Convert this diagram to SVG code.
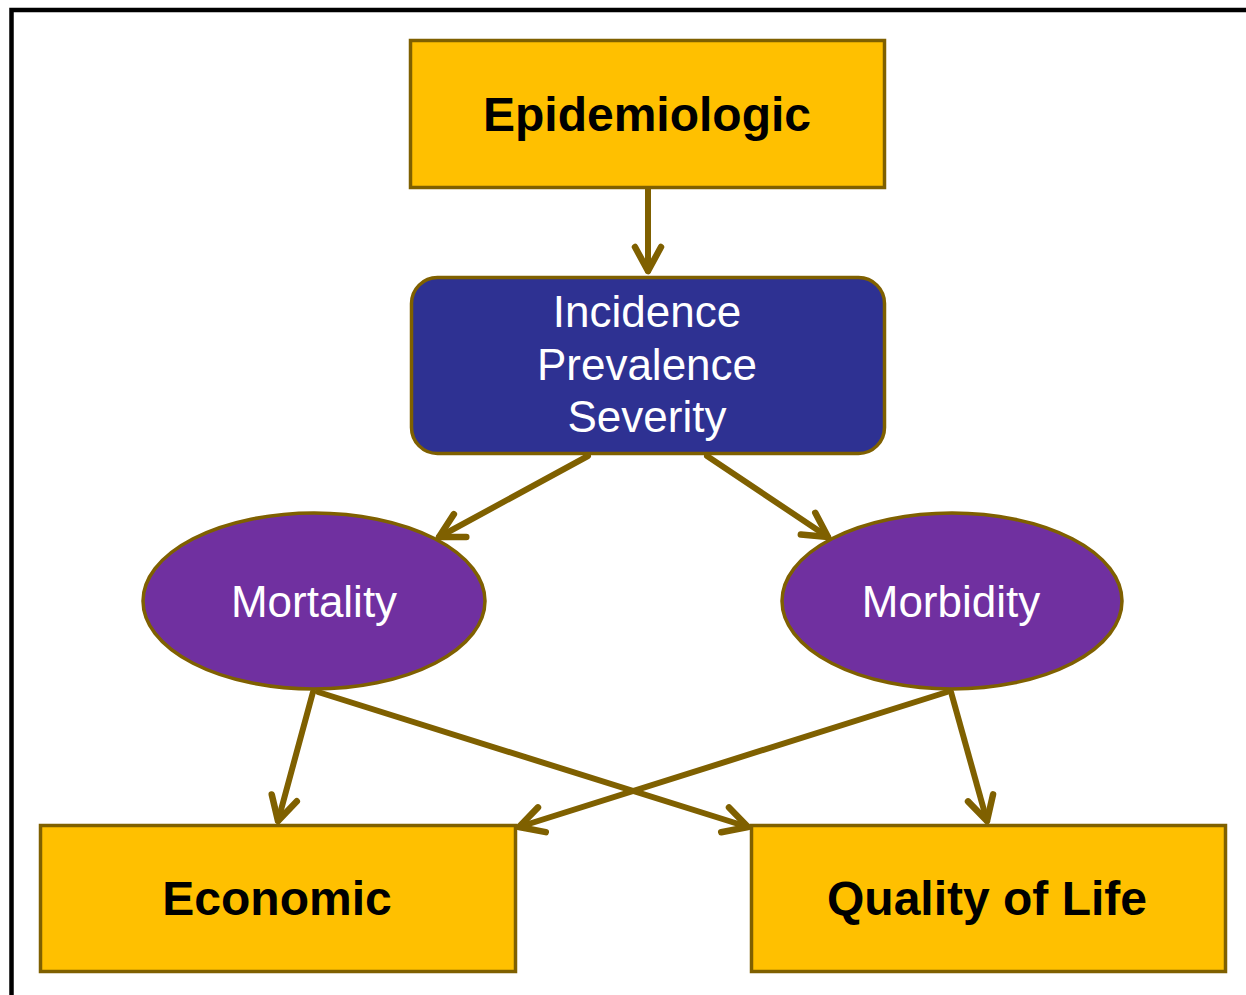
<svg xmlns="http://www.w3.org/2000/svg" width="1246" height="995" viewBox="0 0 1246 995">
  <style>
    .box { fill: #FFC000; stroke: #7F6000; stroke-width: 3.5; }
    .blue { fill: #2E3192; stroke: #7F6000; stroke-width: 3.5; }
    .oval { fill: #7030A0; stroke: #7F6000; stroke-width: 3.5; }
    .dark { font-family: "Liberation Sans", Arial, sans-serif; font-weight: bold; font-size: 48px; fill: #000; text-anchor: middle; }
    .light { font-family: "Liberation Sans", Arial, sans-serif; font-size: 44px; fill: #FFFFFF; text-anchor: middle; }
    .link { stroke: #7F6000; stroke-width: 6; fill: none; stroke-linecap: round; marker-end: url(#head); }
  </style>
  <defs>
    <marker id="head" markerUnits="userSpaceOnUse" markerWidth="40" markerHeight="40" viewBox="-30 -20 40 40" refX="0" refY="0" orient="auto" overflow="visible">
      <path d="M-24,-13 L0,0 L-24,13" fill="none" stroke="#7F6000" stroke-width="6.5" stroke-linecap="round" stroke-linejoin="round"/>
    </marker>
  </defs>

  <rect width="1246" height="995" fill="#FFFFFF"/>
  <!-- outer frame (top and left edges) -->
  <path d="M11.5,995 V10 H1246" fill="none" stroke="#000" stroke-width="4.5"/>

  <g id="connectors">
    <line class="link" x1="588" y1="456" x2="439" y2="537"/>
    <line class="link" x1="707" y1="456" x2="828" y2="537"/>
    <line class="link" x1="648" y1="189" x2="648" y2="271"/>
    <line class="link" x1="313" y1="692" x2="278" y2="821"/>
    <line class="link" x1="318" y1="692" x2="748" y2="827"/>
    <line class="link" x1="947" y1="692" x2="519" y2="827"/>
    <line class="link" x1="951" y1="692" x2="987" y2="821"/>
  </g>

  <g id="epidemiologic">
    <rect class="box" x="410.5" y="40.5" width="474" height="147"/>
    <text class="dark" x="647" y="131">Epidemiologic</text>
  </g>

  <g id="measures">
    <rect class="blue" x="411.5" y="277.5" width="473" height="176" rx="26" ry="26"/>
    <text class="light" x="647" y="327">Incidence</text>
    <text class="light" x="647" y="380">Prevalence</text>
    <text class="light" x="647" y="432">Severity</text>
  </g>

  <g id="mortality">
    <ellipse class="oval" cx="314" cy="601" rx="171" ry="88"/>
    <text class="light" x="314" y="617">Mortality</text>
  </g>

  <g id="morbidity">
    <ellipse class="oval" cx="952" cy="601" rx="170" ry="88"/>
    <text class="light" x="951" y="617">Morbidity</text>
  </g>

  <g id="economic">
    <rect class="box" x="40.5" y="825.5" width="475" height="146"/>
    <text class="dark" x="277" y="915">Economic</text>
  </g>

  <g id="quality-of-life">
    <rect class="box" x="751.5" y="825.5" width="474" height="146"/>
    <text class="dark" x="987" y="915">Quality of Life</text>
  </g>
</svg>
